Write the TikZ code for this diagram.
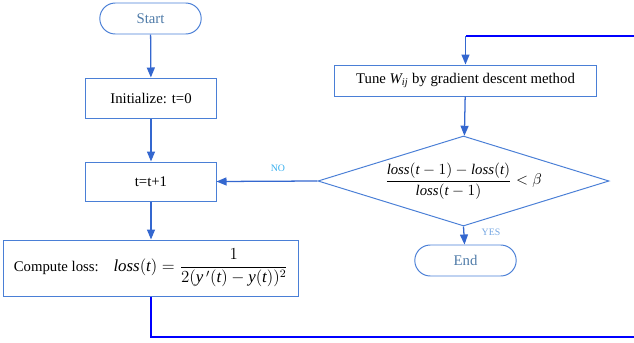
\documentclass[tikz,border=0pt]{standalone}
\usepackage{amsmath}
\usepackage{fontspec}
\setmainfont{Liberation Serif}
\usetikzlibrary{shapes.geometric,shapes.misc,arrows.meta}

\definecolor{boxblue}{HTML}{4A7FD6}
\definecolor{arrowblue}{HTML}{3467CF}
\definecolor{loopblue}{HTML}{0000FF}
\definecolor{termtext}{HTML}{4F7BA8}
\definecolor{noblue}{HTML}{35AEEE}
\definecolor{yesblue}{HTML}{74A6E2}

\newcommand{\ti}[1]{\textit{#1}}

\tikzset{
	box/.style={draw=boxblue, line width=0.7pt, minimum width=3.25cm, minimum height=1cm, inner sep=2pt, font=\fontsize{10.5}{12}\selectfont},
	terminal/.style={box, rounded rectangle, minimum width=2.675cm, minimum height=0.775cm, text=termtext},
	decision/.style={diamond, draw=boxblue, line width=0.7pt, aspect=3.23, inner sep=0pt, minimum width=7.275cm, minimum height=2.25cm, font=\fontsize{10.5}{12}\selectfont},
	arrow/.style={draw=arrowblue, line width=0.9pt, -{Triangle[length=0.25cm,width=0.2cm]}},
	loopline/.style={draw=loopblue, line width=1.5pt},
	tag/.style={font=\fontsize{7}{8}\selectfont}
}

\begin{document}
\begin{tikzpicture}[x=0.025cm,y=-0.025cm]
	\useasboundingbox (0,0) rectangle (634,343);
	
	%left column
	\node[terminal] (start) at (150.5,18.5) {Start};
	\node[box] (init) at (151,98) {Initialize: t=0};
	\node[box, minimum height=0.975cm] (incr) at (151,181.5) {t=t+1};
	\node[box, minimum width=7.35cm, minimum height=1.4cm] (loss) at (151,268) {Compute loss:\quad{\fontsize{12}{14}\selectfont$\ti{loss}(\ti{t})=\dfrac{1}{2(\ti{y}\,'(\ti{t})-\ti{y}(\ti{t}))^2}$}};
	
	%right column
	\node[box, minimum width=6.525cm, minimum height=0.775cm] (tune) at (465.5,80.5) {Tune $\ti{W}_{\ti{ij}}$ by gradient descent method};
	\node[decision] (check) at (463.5,181) {$\dfrac{\ti{loss}(\ti{t}-1)-\ti{loss}(\ti{t})}{\ti{loss}(\ti{t}-1)}<\beta$};
	\node[terminal] (end) at (465.5,260.5) {End};
	
	%labels
	\node[tag, text=noblue] (no) at (278,168) {NO};
	\node[tag, text=yesblue] (yes) at (491,232) {YES};
	
	%arrows
	\draw[arrow] (start) -- (init);
	\draw[arrow] (init) -- (incr);
	\draw[arrow] (incr) -- (loss);
	\draw[arrow] (tune) -- (check);
	\draw[arrow] (check.west) -- (incr.east);
	\draw[arrow] (check.south) -- (end);
	
	%loop back, runs out past the right edge
	\coordinate (back) at (465.5,36);
	\draw[loopline] (loss.south) |- (645,337) |- (back);
	\draw[arrow] (back) -- (tune);
\end{tikzpicture}
\end{document}
